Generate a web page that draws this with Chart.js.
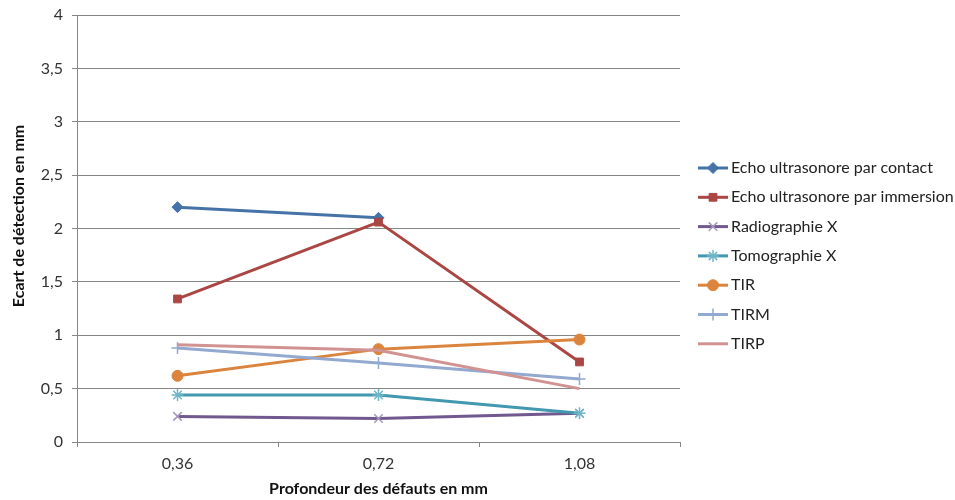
<!DOCTYPE html>
<html>
<head>
<meta charset="utf-8">
<script src="https://cdn.jsdelivr.net/npm/chart.js@4"></script>
<style>
  html, body { margin: 0; padding: 0; background: #fff; }
</style>
</head>
<body>
<canvas id="chart" width="955" height="500"></canvas>
<script>
const depths = ['0,36', '0,72', '1,08'];
const yTicks = [0, 0.5, 1, 1.5, 2, 2.5, 3, 3.5, 4];

const seriesNames = [
    'Echo ultrasonore par contact',
    'Echo ultrasonore par immersion',
    'Radiographie X',
    'Tomographie X',
    'TIR',
    'TIRM',
    'TIRP'
];
const contact = [2.2, 2.1, null];
const immersion = [1.34, 2.06, 0.75];
const radiographie = [0.24, 0.22, 0.27];
const tomographie = [0.44, 0.44, 0.27];
const tir = [0.62, 0.87, 0.96];
const tirm = [0.88, 0.74, 0.59];
const tirp = [0.91, 0.86, 0.50];

const FONT = 'Lato, "Open Sans", sans-serif';
const yTitle = 'Ecart de détection en mm';

// line colour, marker fill, marker outline, marker shape, marker radius
const styles = [
    { line: '#4572A7', fill: '#4572A7', stroke: '#4572A7', shape: 'rectRot', r: 5.5 },
    { line: '#AA4643', fill: '#AA4643', stroke: '#AA4643', shape: 'rect', r: 5.5 },
    { line: '#71588F', fill: 'transparent', stroke: '#A597BA', shape: 'crossRot', r: 6 },
    { line: '#4198AF', fill: 'transparent', stroke: '#6FB6C8', shape: 'star', r: 6 },
    { line: '#DB843D', fill: '#DB843D', stroke: '#DB843D', shape: 'circle', r: 5.5 },
    { line: '#93A9CF', fill: 'transparent', stroke: '#93A9CF', shape: 'cross', r: 6 },
    { line: '#D19392', fill: '#D19392', stroke: '#D19392', shape: false, r: 0 }
];

const values = [contact, immersion, radiographie, tomographie, tir, tirm, tirp];

const datasets = values.map((vals, i) => {
    const s = styles[i];
    return {
        label: seriesNames[i],
        data: vals,
        borderColor: s.line,
        backgroundColor: s.line,
        borderWidth: 3,
        pointStyle: s.shape,
        pointRadius: s.r,
        pointHoverRadius: s.r,
        pointBackgroundColor: s.fill,
        pointBorderColor: s.stroke,
        pointBorderWidth: s.shape === 'rect' || s.shape === 'rectRot' || s.shape === 'circle' ? 1 : 1.5,
        tension: 0,
        spanGaps: false,
        order: values.length - i
    };
});

// Legend on the right: a short line with the series marker, then the name
const sideLegend = {
    id: 'sideLegend',
    afterDraw(chart) {
        const ctx = chart.ctx;
        const x0 = 698, x1 = 728, yStart = 168, step = 29.3;
        ctx.save();
        chart.data.datasets.forEach((ds, i) => {
            const s = styles[i];
            const y = yStart + i * step;
            ctx.strokeStyle = s.line;
            ctx.lineWidth = 3;
            ctx.beginPath();
            ctx.moveTo(x0, y);
            ctx.lineTo(x1, y);
            ctx.stroke();
            if (s.shape) {
                ctx.fillStyle = s.fill;
                ctx.strokeStyle = s.stroke;
                ctx.lineWidth = ds.pointBorderWidth;
                Chart.helpers.drawPoint(ctx, {
                    pointStyle: s.shape,
                    radius: s.r,
                    rotation: 0,
                    borderWidth: ds.pointBorderWidth
                }, (x0 + x1) / 2, y);
            }
            ctx.fillStyle = '#222';
            ctx.font = '16px ' + FONT;
            ctx.textBaseline = 'middle';
            ctx.textAlign = 'left';
            ctx.fillText(ds.label, 731, y);
        });
        ctx.restore();
    }
};

// Vertical axis title, sitting a little above the middle of the plot
const sideTitle = {
    id: 'sideTitle',
    afterDraw(chart) {
        const ctx = chart.ctx;
        ctx.save();
        ctx.translate(19, 216);
        ctx.rotate(-Math.PI / 2);
        ctx.fillStyle = '#111';
        ctx.font = 'bold 16px ' + FONT;
        ctx.textAlign = 'center';
        ctx.textBaseline = 'middle';
        ctx.fillText(yTitle, 0, 0);
        ctx.restore();
    }
};

const fmt = v => String(v).replace('.', ',');

new Chart(document.getElementById('chart'), {
    type: 'line',
    data: { labels: depths, datasets: datasets },
    options: {
        responsive: false,
        animation: false,
        devicePixelRatio: 1,
        layout: { padding: { top: 15, right: 275, left: 0, bottom: 0 } },
        plugins: {
            legend: { display: false },
            tooltip: { enabled: false }
        },
        scales: {
            x: {
                offset: true,
                grid: {
                    offset: true,
                    drawOnChartArea: false,
                    drawTicks: true,
                    tickLength: 5,
                    color: '#868686'
                },
                border: { color: '#868686', width: 1 },
                ticks: {
                    color: '#333',
                    font: { family: FONT, size: 16 },
                    padding: 7
                },
                title: {
                    display: true,
                    text: 'Profondeur des défauts en mm',
                    color: '#111',
                    font: { family: FONT, size: 16, weight: 'bold' },
                    padding: { top: 2, bottom: 2 }
                },
                afterFit: scale => { scale.height = 58; }
            },
            y: {
                min: 0,
                max: 4,
                afterBuildTicks: scale => {
                    scale.ticks = yTicks.map(v => ({ value: v }));
                },
                grid: {
                    color: '#868686',
                    drawTicks: true,
                    tickLength: 5
                },
                border: { color: '#868686', width: 1 },
                ticks: {
                    color: '#333',
                    font: { family: FONT, size: 16 },
                    padding: 9,
                    callback: v => fmt(v)
                },
                afterFit: scale => {
                    scale.width = 77;
                    scale.paddingTop = 0;
                    scale.paddingBottom = 0;
                }
            }
        }
    },
    plugins: [sideLegend, sideTitle]
});
</script>
</body>
</html>
